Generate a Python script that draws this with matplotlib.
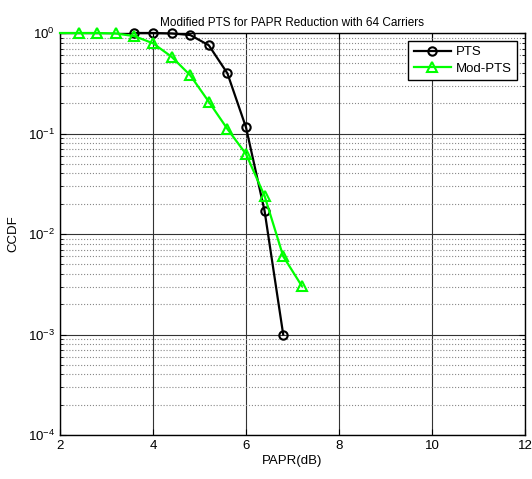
import numpy as np
import matplotlib
matplotlib.use('Agg')
import matplotlib.pyplot as plt
from matplotlib.ticker import LogLocator, NullFormatter

plt.rcParams['font.family'] = ['Liberation Sans', 'DejaVu Sans']
plt.rcParams['mathtext.fontset'] = 'custom'
plt.rcParams['mathtext.rm'] = 'Liberation Sans'
plt.rcParams['mathtext.it'] = 'Liberation Sans'

# PTS curve (circles visible from 3.6 dB on)
pts_x = [3.6, 4.0, 4.4, 4.8, 5.2, 5.6, 6.0, 6.4, 6.8]
pts_y = [1.0, 1.0, 0.99, 0.955, 0.755, 0.397, 0.115, 0.0169, 0.001]

# Modified PTS curve; the first point sits on the left axis edge with no marker
mod_x = [2.0, 2.4, 2.8, 3.2, 3.6, 4.0, 4.4, 4.8, 5.2, 5.6, 6.0, 6.4, 6.8, 7.2]
mod_y = [1.0, 1.0, 1.0, 0.99, 0.93, 0.79, 0.58, 0.38, 0.207, 0.111, 0.0625, 0.0239, 0.0060, 0.00304]

x_ticks = [2, 4, 6, 8, 10, 12]


def main():
    fig = plt.figure(figsize=(5.32, 4.79), dpi=100)
    ax = fig.add_axes([60 / 532, 1 - 435 / 479, 465 / 532, 402 / 479])

    ax.semilogy(pts_x, pts_y, color='black', marker='o', markersize=6,
                markerfacecolor='none', markeredgewidth=1.5, linewidth=1.6,
                label='PTS', clip_on=False, zorder=3)
    ax.semilogy(mod_x, mod_y, color='#00ff00', marker='^', markersize=7,
                markerfacecolor='none', markeredgewidth=1.5, linewidth=1.6,
                markevery=list(range(1, len(mod_x))),
                label='Mod-PTS', clip_on=False, zorder=4)

    ax.set_xlim(2, 12)
    ax.set_ylim(1e-4, 1)
    ax.set_xticks(x_ticks)
    ax.yaxis.set_major_locator(LogLocator(base=10, numticks=10))
    ax.yaxis.set_minor_locator(LogLocator(base=10, subs=np.arange(2, 10), numticks=20))
    ax.yaxis.set_minor_formatter(NullFormatter())

    ax.grid(True, which='major', color='#333333', linestyle='-', linewidth=0.8)
    ax.grid(True, which='minor', axis='y', color='#888888', linestyle=':', linewidth=0.8)

    ax.tick_params(which='both', direction='in', top=True, right=True, labelsize=9.5)
    ax.tick_params(which='minor', length=2)
    ax.tick_params(which='major', length=4)
    for s in ax.spines.values():
        s.set_linewidth(1.0)

    ax.set_xlabel('PAPR(dB)', fontsize=9.5, labelpad=2)
    ax.set_ylabel('CCDF', fontsize=9.5, labelpad=6)
    ax.set_title('Modified PTS for PAPR Reduction with 64 Carriers', fontsize=8.5, pad=5)

    leg = ax.legend(loc='upper right', fontsize=9.5, fancybox=False, framealpha=1,
                    edgecolor='black', handlelength=2.8, handletextpad=0.4,
                    borderaxespad=0.6, labelspacing=0.3, borderpad=0.4)
    leg.get_frame().set_linewidth(1.0)

    fig.savefig('out.png', dpi=100)


if __name__ == '__main__':
    main()
